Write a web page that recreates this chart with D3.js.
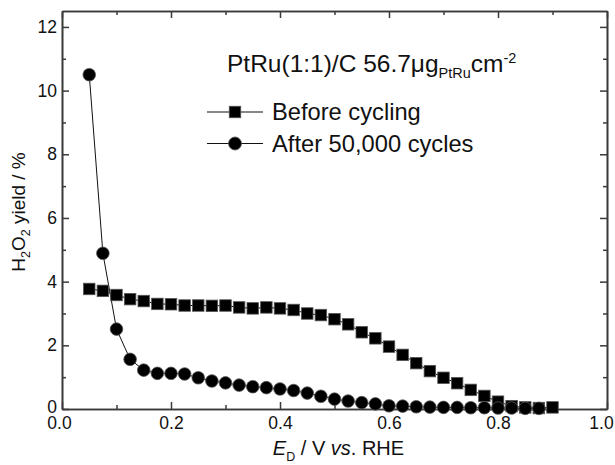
<!DOCTYPE html>
<html>
<head>
<meta charset="utf-8">
<script src="https://d3js.org/d3.v7.min.js"></script>
<style>
  body { margin: 0; background: #fff; }
  text { font-family: "Liberation Sans", Arial, sans-serif; fill: #111; }
</style>
</head>
<body>
<script>
// potentials (V vs. RHE) and H2O2 yields (%)
var potBefore = [0.05, 0.075, 0.1, 0.125, 0.15, 0.175, 0.2, 0.225, 0.25, 0.275, 0.3, 0.325, 0.35, 0.375,
                 0.4, 0.425, 0.45, 0.475, 0.5, 0.525, 0.55, 0.575, 0.6, 0.625, 0.65, 0.675, 0.7, 0.725,
                 0.75, 0.775, 0.8, 0.825, 0.85, 0.875, 0.9];
var yieldBefore = [3.77, 3.71, 3.58, 3.45, 3.39, 3.30, 3.29, 3.25, 3.25, 3.24, 3.25, 3.19, 3.16, 3.19,
                   3.16, 3.11, 3.00, 2.95, 2.82, 2.66, 2.41, 2.22, 1.96, 1.70, 1.44, 1.19, 0.98, 0.81,
                   0.60, 0.41, 0.23, 0.09, 0.05, 0.03, 0.05];

var potAfter = [0.05, 0.075, 0.1, 0.125, 0.15, 0.175, 0.2, 0.225, 0.25, 0.275, 0.3, 0.325, 0.35, 0.375,
                0.4, 0.425, 0.45, 0.475, 0.5, 0.525, 0.55, 0.575, 0.6, 0.625, 0.65, 0.675, 0.7, 0.725,
                0.75, 0.775, 0.8, 0.825, 0.85, 0.875];
var yieldAfter = [10.5, 4.89, 2.51, 1.56, 1.22, 1.12, 1.12, 1.10, 0.98, 0.88, 0.82, 0.75, 0.70, 0.67,
                  0.63, 0.58, 0.50, 0.40, 0.31, 0.25, 0.20, 0.16, 0.10, 0.09, 0.07, 0.06, 0.05, 0.05,
                  0.04, 0.04, 0.03, 0.03, 0.02, 0.02];

var xTicks = [0, 0.2, 0.4, 0.6, 0.8, 1.0];
var xMinor = [0.1, 0.3, 0.5, 0.7, 0.9];
var yTicks = [0, 2, 4, 6, 8, 10, 12];
var yMinor = [1, 3, 5, 7, 9, 11];
var seriesNames = ["Before cycling", "After 50,000 cycles"];

var margin = {top: 11, right: 8, bottom: 56, left: 62},
    width = 615 - margin.left - margin.right,
    height = 465 - margin.top - margin.bottom;

var svg = d3.select("body").append("svg")
    .attr("width", 615)
    .attr("height", 465);

var g = svg.append("g")
    .attr("transform", "translate(" + margin.left + "," + margin.top + ")");

var x = d3.scaleLinear().domain([0, 1.0]).range([0, width]);
var y = d3.scaleLinear().domain([0, 12.5]).range([height, 0]);

var axisColor = "#3a3a3a";

function styleAxis(sel) {
    sel.selectAll("path").attr("stroke", axisColor).attr("stroke-width", 1.6);
    sel.selectAll("line").attr("stroke", axisColor).attr("stroke-width", 1.5);
    sel.selectAll("text").attr("font-size", 17.5).attr("fill", "#111")
        .attr("font-family", "'Liberation Sans', Arial, sans-serif");
}

// bottom
g.append("g").attr("class", "xaxis").attr("transform", "translate(0," + height + ")")
    .call(d3.axisBottom(x).tickValues(xTicks).tickSize(-7).tickSizeOuter(0).tickPadding(8)
        .tickFormat(d3.format(".1f")))
    .call(styleAxis);
// the end labels sit a little inward in the original
g.selectAll(".xaxis .tick text")
    .attr("dx", function(d) { return d === 0 ? -3 : (d === 1 ? -6 : 0); });
g.append("g").attr("transform", "translate(0," + height + ")")
    .call(d3.axisBottom(x).tickValues(xMinor).tickSize(-4).tickSizeOuter(0).tickFormat(""))
    .call(styleAxis);
// top
g.append("g")
    .call(d3.axisTop(x).tickValues(xTicks).tickSize(-7).tickSizeOuter(0).tickFormat(""))
    .call(styleAxis);
g.append("g")
    .call(d3.axisTop(x).tickValues(xMinor).tickSize(-4).tickSizeOuter(0).tickFormat(""))
    .call(styleAxis);
// left
g.append("g").attr("class", "yaxis")
    .call(d3.axisLeft(y).tickValues(yTicks).tickSize(-7).tickSizeOuter(0).tickPadding(5))
    .call(styleAxis);
g.selectAll(".yaxis .tick text").attr("dy", function(d) { return d === 0 ? "0.18em" : "0.32em"; });
g.append("g")
    .call(d3.axisLeft(y).tickValues(yMinor).tickSize(-4).tickSizeOuter(0).tickFormat(""))
    .call(styleAxis);
// right
g.append("g").attr("transform", "translate(" + width + ",0)")
    .call(d3.axisRight(y).tickValues(yTicks).tickSize(-7).tickSizeOuter(0).tickFormat(""))
    .call(styleAxis);
g.append("g").attr("transform", "translate(" + width + ",0)")
    .call(d3.axisRight(y).tickValues(yMinor).tickSize(-4).tickSizeOuter(0).tickFormat(""))
    .call(styleAxis);

var line = d3.line()
    .x(function(d) { return x(d[0]); })
    .y(function(d) { return y(d[1]); });

var before = d3.zip(potBefore, yieldBefore);
var after = d3.zip(potAfter, yieldAfter);

g.append("path").datum(before)
    .attr("fill", "none").attr("stroke", "#111").attr("stroke-width", 1)
    .attr("d", line);
g.append("path").datum(after)
    .attr("fill", "none").attr("stroke", "#111").attr("stroke-width", 1)
    .attr("d", line);

var sq = 11.5;
g.selectAll(".sq").data(before).enter().append("rect")
    .attr("class", "sq")
    .attr("x", function(d) { return x(d[0]) - sq / 2; })
    .attr("y", function(d) { return y(d[1]) - sq / 2; })
    .attr("width", sq).attr("height", sq)
    .attr("fill", "#000").attr("stroke", "#555").attr("stroke-width", 0.8);

g.selectAll(".ci").data(after).enter().append("circle")
    .attr("class", "ci")
    .attr("cx", function(d) { return x(d[0]); })
    .attr("cy", function(d) { return y(d[1]); })
    .attr("r", 6.3)
    .attr("fill", "#000").attr("stroke", "#555").attr("stroke-width", 0.8);

// legend title
var title = svg.append("text")
    .attr("x", 227).attr("y", 72)
    .attr("font-size", 24.5);
title.append("tspan").text("PtRu(1:1)/C 56.7\u03bcg");
title.append("tspan").attr("font-size", 14.5).attr("dy", 6).text("PtRu");
title.append("tspan").attr("dy", -6).text("cm");
title.append("tspan").attr("font-size", 14.5).attr("dy", -9).text("-2");

// legend entries
var leg = svg.selectAll(".leg").data(seriesNames).enter().append("g")
    .attr("class", "leg")
    .attr("transform", function(d, i) { return "translate(0," + (112 + i * 31.5) + ")"; });
leg.append("line")
    .attr("x1", 207).attr("x2", 263)
    .attr("stroke", "#111").attr("stroke-width", 1.2);
leg.filter(function(d, i) { return i === 0; }).append("rect")
    .attr("x", 235 - sq / 2).attr("y", -sq / 2).attr("width", sq).attr("height", sq)
    .attr("fill", "#000").attr("stroke", "#555").attr("stroke-width", 0.8);
leg.filter(function(d, i) { return i === 1; }).append("circle")
    .attr("cx", 235).attr("r", 6.5)
    .attr("fill", "#000").attr("stroke", "#555").attr("stroke-width", 0.8);
leg.append("text")
    .attr("x", 272).attr("y", 8.4)
    .attr("font-size", 23.7)
    .text(function(d) { return d; });

// axis labels
var xl = svg.append("text")
    .attr("x", margin.left + width / 2 + 4).attr("y", 455)
    .attr("text-anchor", "middle")
    .attr("font-size", 20);
xl.append("tspan").attr("font-style", "italic").text("E");
xl.append("tspan").attr("font-size", 12.5).attr("dy", 6).text("D");
xl.append("tspan").attr("dy", -6).text(" / V ");
xl.append("tspan").attr("font-style", "italic").text("vs");
xl.append("tspan").text(". RHE");

var yl = svg.append("text")
    .attr("transform", "translate(24.5," + (margin.top + height / 2 + 2) + ") rotate(-90)")
    .attr("text-anchor", "middle")
    .attr("font-size", 19);
yl.append("tspan").text("H");
yl.append("tspan").attr("font-size", 12.5).attr("dy", 5).text("2");
yl.append("tspan").attr("dy", -5).text("O");
yl.append("tspan").attr("font-size", 12.5).attr("dy", 5).text("2");
yl.append("tspan").attr("dy", -5).text(" yield / %");
</script>
</body>
</html>
